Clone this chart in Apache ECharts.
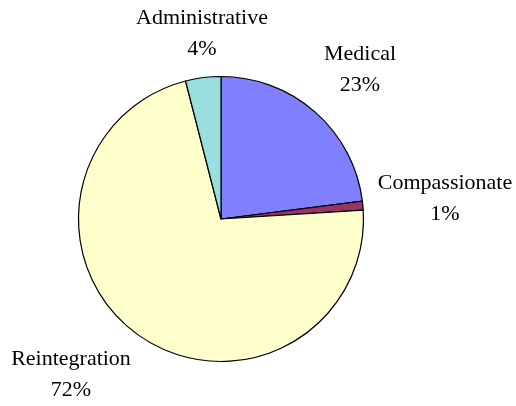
<!DOCTYPE html>
<html>
<head>
    <meta charset="utf-8">
    <title></title>
    <style>
        html,body{ margin:0; padding:0; background:#fff; }
    </style>
</head>
<body>
<script src="https://cdn.jsdelivr.net/npm/echarts@6/dist/echarts.min.js"></script>
<div id="main" style="width:516px;height:406px;"></div>
<script type="text/javascript">
    // data
    var categories = ['Medical', 'Compassionate', 'Reintegration', 'Administrative'];
    var values = [23, 1, 72, 4];
    var colors = ['#8080ff', '#993366', '#ffffcc', '#99dfdf'];
    // label centres (px)
    var labelPos = [[360, 70], [445, 199], [71, 375], [202, 34]];

    var myChart = echarts.init(document.getElementById('main'));

    myChart.setOption({
        animation: false,
        series: [{
            type: 'pie',
            center: [221, 219],
            radius: 142.5,
            startAngle: 90,
            clockwise: true,
            itemStyle: {
                borderColor: '#000',
                borderWidth: 1.2
            },
            label: {
                show: true,
                formatter: '{b}\n{d}%',
                fontFamily: 'Liberation Serif',
                fontSize: 22,
                lineHeight: 31,
                color: '#000',
                align: 'center',
                overflow: 'none',
                width: 200
            },
            labelLine: { show: false },
            labelLayout: function (params) {
                var p = labelPos[params.dataIndex];
                return { x: p[0], y: p[1], align: 'center', verticalAlign: 'middle' };
            },
            data: categories.map(function (name, i) {
                return { name: name, value: values[i], itemStyle: { color: colors[i] } };
            })
        }]
    });
</script>
</body>
</html>
